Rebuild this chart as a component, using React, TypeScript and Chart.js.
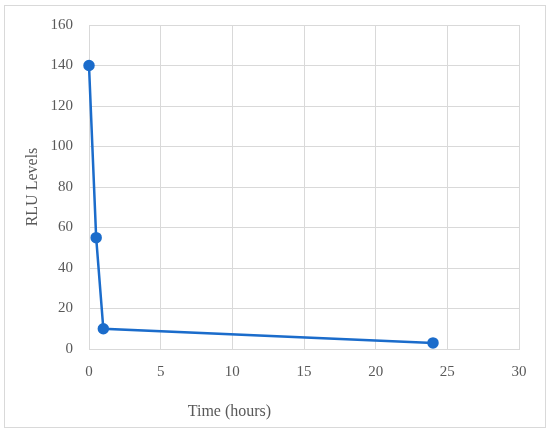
import React, { useEffect, useRef } from "react";
import { Chart, registerables } from "chart.js";

Chart.register(...registerables);

const timeHours = [0, 0.5, 1, 24];
const rluLevels = [140, 55, 10, 3];
const xTitle = "Time (hours)";
const yTitle = "RLU Levels";

const FONT = "'Liberation Serif', 'Times New Roman', serif";
const TEXT = "#595959";
const GRID = "#d9d9d9";
const BLUE = "#1b6ccb";

const framePlugin = {
  id: "frame",
  beforeDraw(chart: any) {
    const { ctx } = chart;
    ctx.save();
    ctx.fillStyle = "#ffffff";
    ctx.fillRect(0, 0, chart.width, chart.height);
    ctx.strokeStyle = GRID;
    ctx.lineWidth = 1;
    ctx.strokeRect(4.5, 5.5, chart.width - 9, chart.height - 11);
    ctx.restore();
  },
  afterDraw(chart: any) {
    const { ctx, chartArea } = chart;
    ctx.save();
    ctx.fillStyle = TEXT;
    ctx.font = `16px ${FONT}`;
    ctx.textAlign = "center";
    ctx.textBaseline = "middle";
    const xs = chart.scales.x;
    ctx.fillText(xTitle, xs.getPixelForValue(9.8), 412);
    ctx.translate(33, (chartArea.top + chartArea.bottom) / 2);
    ctx.rotate(-Math.PI / 2);
    ctx.fillText(yTitle, 0, 0);
    ctx.restore();
  },
};

export default function App() {
  const ref = useRef<HTMLCanvasElement>(null);
  useEffect(() => {
    document.body.style.margin = "0";
    const chart = new Chart(ref.current as HTMLCanvasElement, {
      type: "scatter",
      data: {
        datasets: [
          {
            data: timeHours.map((t, i) => ({ x: t, y: rluLevels[i] })),
            showLine: true,
            clip: false,
            borderColor: BLUE,
            backgroundColor: BLUE,
            borderWidth: 2.5,
            pointRadius: 4.5,
            pointHoverRadius: 4.5,
          },
        ],
      },
      options: {
        animation: false,
        responsive: false,
        layout: { padding: { top: 24, right: 31, left: 0, bottom: 0 } },
        plugins: { legend: { display: false }, tooltip: { enabled: false } },
        scales: {
          x: {
            type: "linear",
            min: 0,
            max: 30,
            afterFit: (s: any) => {
              s.height = 84;
            },
            ticks: {
              stepSize: 5,
              padding: 14,
              color: TEXT,
              font: { family: FONT, size: 15 },
            },
            grid: { color: GRID, drawTicks: false },
            border: { color: GRID },
          },
          y: {
            min: 0,
            max: 160,
            afterFit: (s: any) => {
              s.width = 89;
            },
            ticks: {
              stepSize: 20,
              padding: 16,
              color: TEXT,
              font: { family: FONT, size: 15 },
            },
            grid: { color: GRID, drawTicks: false },
            border: { color: GRID },
          },
        },
      },
      plugins: [framePlugin],
    });
    return () => chart.destroy();
  }, []);
  return <canvas ref={ref} width={550} height={433} style={{ display: "block" }} />;
}
